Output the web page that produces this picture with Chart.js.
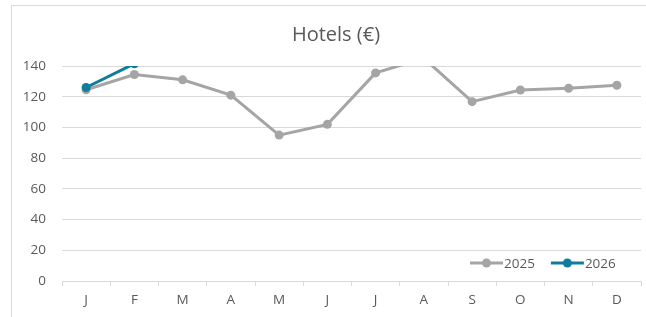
<!DOCTYPE html>
<html>
<head>
<meta charset="utf-8">
<script src="https://cdn.jsdelivr.net/npm/chart.js@4.4.1/dist/chart.umd.min.js"></script>
<style>
    html, body { margin: 0; padding: 0; background: #fff; }
    #wrap { position: relative; width: 646px; height: 317px; overflow: hidden; }
    #frame { position: absolute; left: 11px; top: 5px; width: 700px; height: 400px; border: 1px solid #d9d9d9; }
    #chart { position: absolute; left: 0; top: 0; }
</style>
</head>
<body>
<div id="wrap">
    <div id="frame"></div>
    <canvas id="chart" width="646" height="317"></canvas>
</div>
<script>
// data
var months = ["J", "F", "M", "A", "M", "J", "J", "A", "S", "O", "N", "D"];
var values2025 = [124.5, 134.5, 131, 121, 95, 102, 135.5, 145, 116.8, 124.4, 125.5, 127.5];
var values2026 = [126, 141.5, null, null, null, null, null, null, null, null, null, null];
var yTicks = [0, 20, 40, 60, 80, 100, 120, 140];
var titleText = 'Hotels (€)';

var grey = '#a5a5a5';
var teal = '#107c9e';
var textColor = '#595959';
var gridColor = '#d9d9d9';

Chart.defaults.font.family = "'Open Sans', sans-serif";
Chart.defaults.color = textColor;

// title centred on the framed chart box, not on the canvas
var frameTitle = {
    id: 'frameTitle',
    afterDraw: function (chart) {
        var ctx = chart.ctx;
        ctx.save();
        ctx.font = "20px 'Open Sans', sans-serif";
        ctx.fillStyle = textColor;
        ctx.textAlign = 'center';
        ctx.textBaseline = 'middle';
        ctx.fillText(titleText, 336, 35);
        ctx.restore();
    }
};

// legend drawn inside the plot, bottom right
var innerLegend = {
    id: 'innerLegend',
    afterDraw: function (chart) {
        var ctx = chart.ctx;
        var area = chart.chartArea;
        var x = area.right - 171;
        var y = area.bottom - 18;
        ctx.save();
        ctx.font = "13.5px 'Open Sans', sans-serif";
        ctx.textBaseline = 'middle';
        ctx.textAlign = 'left';
        chart.data.datasets.forEach(function (ds) {
            ctx.strokeStyle = ds.borderColor;
            ctx.lineWidth = 3;
            ctx.beginPath();
            ctx.moveTo(x, y);
            ctx.lineTo(x + 33, y);
            ctx.stroke();
            ctx.fillStyle = ds.borderColor;
            ctx.beginPath();
            ctx.arc(x + 16.5, y, 4.5, 0, Math.PI * 2);
            ctx.fill();
            ctx.fillStyle = textColor;
            ctx.fillText(ds.label, x + 34, y + 1);
            x += 34 + ctx.measureText(ds.label).width + 16;
        });
        ctx.restore();
    }
};

var ctx = document.getElementById('chart').getContext('2d');

var chart = new Chart(ctx, {
    type: 'line',
    data: {
        labels: months,
        datasets: [{
                label: '2025',
                data: values2025,
                borderColor: grey,
                backgroundColor: grey,
                pointBackgroundColor: grey,
                borderWidth: 3,
                pointRadius: 4.5,
                pointBorderWidth: 0,
                tension: 0,
                clip: 0,
                order: 2
            },
            {
                label: '2026',
                data: values2026,
                borderColor: teal,
                backgroundColor: teal,
                pointBackgroundColor: teal,
                borderWidth: 3,
                pointRadius: 4.5,
                pointBorderWidth: 0,
                tension: 0,
                clip: 0,
                order: 1
            }
        ]
    },
    options: {
        responsive: false,
        animation: false,
        events: [],
        layout: {
            padding: { left: 0, right: 5, top: 66, bottom: 0 }
        },
        plugins: {
            legend: { display: false },
            tooltip: { enabled: false },
            title: { display: false }
        },
        scales: {
            x: {
                offset: true,
                grid: {
                    display: true,
                    drawOnChartArea: false,
                    drawTicks: true,
                    tickLength: 5,
                    offset: true,
                    color: gridColor
                },
                border: { display: true, color: gridColor, width: 1 },
                ticks: {
                    color: textColor,
                    font: { size: 13.5 },
                    padding: 6,
                    maxRotation: 0,
                    autoSkip: false
                },
                afterFit: function (s) { s.height = 36; }
            },
            y: {
                min: 0,
                max: 140,
                afterBuildTicks: function (s) {
                    s.ticks = yTicks.map(function (v) { return { value: v }; });
                },
                grid: {
                    color: gridColor,
                    drawTicks: false
                },
                border: { display: false },
                ticks: {
                    color: textColor,
                    font: { size: 13.5 },
                    padding: 16
                },
                afterFit: function (s) { s.width = 62; }
            }
        }
    },
    plugins: [frameTitle, innerLegend]
});
</script>
</body>
</html>
